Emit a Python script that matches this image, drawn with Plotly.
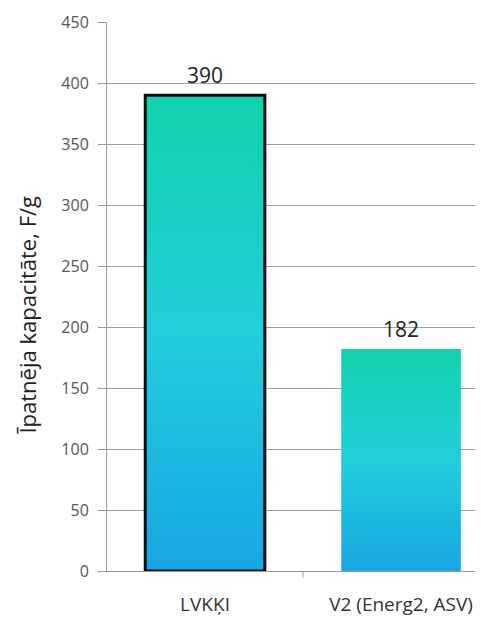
import plotly.graph_objects as go

categories = ["LVKĶI", "V2 (Energ2, ASV)"]
values = [390, 182]
y_ticks = [0, 50, 100, 150, 200, 250, 300, 350, 400, 450]
y_title = "Īpatnēja kapacitāte, F/g"

bar_width = 0.61
gradient = [[0, "#17A6E2"], [0.5, "#22CEDB"], [1, "#10D3AC"]]
outline = [dict(color="#0A0F14", width=3), dict(color="rgba(0,0,0,0)", width=0)]

fig = go.Figure()
for i, (cat, v) in enumerate(zip(categories, values)):
    x0, x1 = i - bar_width / 2, i + bar_width / 2
    fig.add_trace(go.Scatter(
        x=[x0, x1, x1, x0, x0], y=[0, 0, v, v, 0],
        mode="lines", fill="toself",
        fillgradient=dict(type="vertical", colorscale=gradient),
        line=outline[i], hoverinfo="skip", showlegend=False,
    ))

for i, v in enumerate(values):
    fig.add_annotation(x=i, y=v, xref="x", yref="y", text=str(v), showarrow=False,
                       yanchor="bottom", yshift=4,
                       font=dict(size=21, color="#222222", family="Open Sans"))

# y-axis title as annotation
fig.add_annotation(x=-0.2128, y=0.467, xref="paper", yref="paper", text=y_title,
                   textangle=-90, showarrow=False, xanchor="center", yanchor="middle",
                   font=dict(size=22, color="#222222", family="Open Sans"))

fig.update_layout(
    width=475, height=609,
    margin=dict(l=99, r=0, t=14, b=43),
    paper_bgcolor="white", plot_bgcolor="white",
    font=dict(family="Open Sans", color="#555555"),
    xaxis=dict(
        range=[-0.5, 1.418], tickvals=list(range(len(categories))), ticktext=categories,
        showgrid=False, zeroline=False, showline=True, linecolor="#9A9A9A", linewidth=1,
        ticks="", tickfont=dict(size=19, color="#333333"), ticklabelstandoff=16,
    ),
    yaxis=dict(
        range=[0, 450], tickvals=y_ticks, showgrid=True, gridcolor="#9E9E9E", gridwidth=1,
        zeroline=False, showline=True, linecolor="#9A9A9A", linewidth=1,
        ticks="outside", ticklen=8, tickcolor="#9A9A9A",
        tickfont=dict(size=16, color="#555555"), ticklabelstandoff=6,
    ),
)
# boundary tick between categories
fig.add_shape(type="line", xref="x", yref="paper", x0=0.5, x1=0.5, y0=0, y1=-0.012,
              line=dict(color="#9A9A9A", width=1))

fig.write_html("out.html")
